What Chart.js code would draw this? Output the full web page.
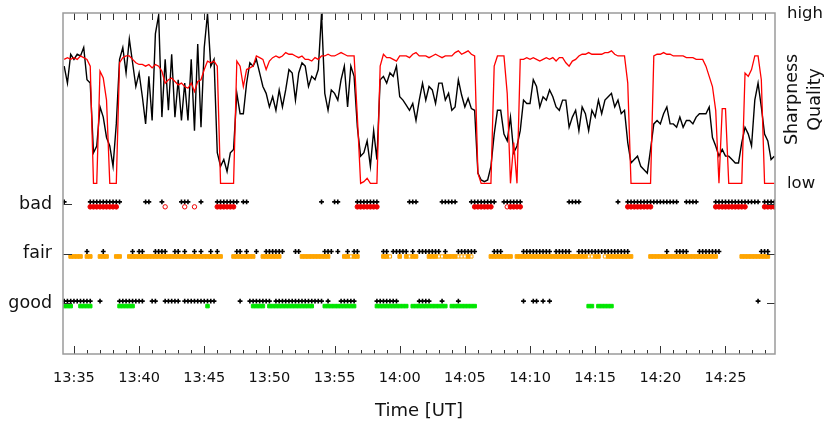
<!DOCTYPE html>
<html>
<head>
<meta charset="utf-8">
<script src="https://cdn.jsdelivr.net/npm/chart.js@4.4.1/dist/chart.umd.min.js"></script>
<style>
  html, body { margin: 0; padding: 0; background: #fff; }
  canvas { display: block; }
</style>
</head>
<body>
<canvas id="chart" width="828" height="423"></canvas>
<script>
// Zeitachse: Minuten nach 13:00 UT, ein Messwert alle 15 s ab 13:34:15
const firstSample = 34.25;
const sampleStep = 0.25;

// Beschriftungen der Zeitachse
const timeTicks = ['13:35', '13:40', '13:45', '13:50', '13:55', '14:00', '14:05', '14:10', '14:15', '14:20', '14:25'];
const qualityLevels = ['good', 'fair', 'bad'];   // y = 1, 2, 3
const sharpnessLabels = ['low', 'high'];         // 0 und 100

// Schaerfe (schwarze Linie), 0 = low, 100 = high
const sharpness = [
  69, 59, 76, 73, 76, 75, 80, 61, 59, 18,
  22, 45, 39, 27, 22, 10, 35, 73, 80, 65,
  85, 71, 57, 65, 51, 35, 63, 37, 88, 99,
  39, 73, 43, 76, 39, 61, 37, 59, 37, 73,
  31, 82, 33, 80, 100, 69, 73, 18, 10, 14,
  7, 18, 20, 53, 41, 41, 59, 71, 69, 73,
  65, 57, 53, 45, 51, 43, 55, 45, 55, 67,
  65, 49, 65, 71, 69, 57, 63, 61, 67,
  100, 53, 43, 55, 53, 49, 61, 69, 45, 69,
  63, 33, 16, 18, 25, 10, 31, 14, 61, 63,
  59, 65, 63, 69, 51, 49, 46, 43, 47, 37,
  49, 59, 49, 57, 55, 47, 59, 59, 49, 53,
  43, 45, 61, 52, 45, 50, 44, 43, 6, 2,
  1, 2, 10, 29, 43, 43, 29, 25, 39, 18,
  22, 31, 49, 47, 47, 61, 57, 45, 51, 49,
  55, 51, 45, 43, 49, 49, 33, 39, 43, 31,
  45, 41, 31, 43, 39, 49, 41, 49, 51, 53,
  45, 49, 41, 43, 24, 12, 14, 16, 10, 8,
  6, 20, 35, 37, 35, 41, 45, 35, 35, 33,
  39, 33, 37, 37, 35, 39, 41, 41, 41, 45,
  27, 22, 16, 20, 16, 16, 14, 12, 12, 24,
  33, 29, 22, 49, 59, 45, 29, 25, 14, 16
];

// Qualitaet (rote Linie), 0 = low, 100 = high
const quality = [
  73, 74, 73, 74, 73, 75, 74, 73, 69, 0,
  0, 66, 62, 49, 0, 0, 0, 71, 74, 75,
  75, 73, 71, 70, 70, 69, 70, 68, 70, 69,
  66, 59, 61, 62, 60, 58, 59, 57, 56, 59,
  54, 60, 61, 67, 72, 71, 72, 69, 0, 0,
  0, 0, 0, 72, 69, 57, 67, 68, 69, 75,
  74, 73, 67, 72, 74, 75, 74, 75, 77, 76,
  76, 75, 74, 75, 73, 73, 72, 74, 73,
  75, 75, 76, 75, 75, 76, 77, 76, 75, 75,
  75, 39, 0, 1, 3, 0, 0, 0, 69, 76,
  74, 74, 73, 72, 75, 75, 75, 74, 76, 77,
  75, 75, 75, 74, 75, 76, 75, 74, 75, 75,
  75, 77, 78, 76, 77, 78, 76, 75, 6, 0,
  0, 0, 0, 69, 75, 75, 75, 53, 0, 24,
  0, 73, 73, 74, 73, 74, 73, 72, 73, 74,
  73, 74, 72, 74, 74, 71, 69, 72, 73, 75,
  76, 76, 77, 76, 76, 76, 76, 77, 77, 78,
  76, 75, 75, 75, 59, 0, 0, 0, 0, 0,
  0, 0, 75, 76, 76, 77, 76, 76, 75, 75,
  75, 75, 74, 74, 74, 73, 73, 73, 69, 63,
  57, 43, 0, 44, 44, 0, 0, 0, 0, 0,
  65, 63, 67, 75, 75, 61, 0, 0, 0, 0
];

// Einstufung je Messwert als Bitmaske: 1 = good, 2 = fair, 4 = bad
// schwarze Marker (Schaerfe)
const sharpFlags = [
  5, 1, 1, 1, 1, 1, 1, 3, 5, 4,
  4, 5, 6, 4, 4, 4, 4, 5, 1, 1,
  1, 3, 1, 3, 3, 4, 4, 1, 3, 2,
  6, 3, 1, 1, 3, 3, 4, 7, 5, 1,
  3, 1, 7, 1, 1, 3, 1, 6, 4, 4,
  4, 4, 4, 6, 3, 4, 6, 1, 1, 3,
  1, 1, 3, 3, 2, 3, 3, 3, 1, 1,
  1, 3, 3, 1, 1, 1, 1, 1, 1,
  5, 2, 3, 2, 4, 6, 1, 1, 3, 1,
  3, 6, 4, 4, 4, 4, 4, 5, 1, 3,
  3, 1, 3, 3, 2, 2, 2, 4, 6, 4,
  3, 3, 3, 3, 2, 2, 2, 5, 6, 4,
  4, 4, 3, 2, 2, 2, 6, 6, 4, 4,
  4, 4, 4, 6, 2, 2, 4, 4, 4, 4,
  4, 4, 3, 2, 2, 3, 3, 2, 3, 2,
  3, 0, 2, 2, 2, 2, 6, 4, 4, 6,
  2, 2, 2, 2, 2, 2, 2, 2, 2, 2,
  2, 6, 2, 2, 6, 4, 4, 4, 4, 4,
  4, 4, 4, 4, 4, 4, 6, 4, 4, 6,
  2, 2, 6, 4, 4, 4, 2, 2, 2, 2,
  2, 6, 6, 4, 4, 4, 4, 4, 4, 4,
  4, 4, 4, 4, 5, 2, 6, 6, 4, 4
];

// farbige Marker (Qualitaet)
const qualFlags = [
  1, 1, 3, 2, 2, 3, 1, 3, 7, 4,
  4, 6, 6, 6, 4, 4, 6, 3, 1, 1,
  3, 3, 2, 2, 2, 2, 2, 2, 2, 2,
  2, 2, 2, 2, 2, 2, 2, 2, 2, 2,
  2, 2, 2, 2, 3, 2, 2, 6, 6, 4,
  4, 4, 6, 2, 2, 2, 2, 2, 3, 1,
  1, 3, 2, 3, 3, 3, 3, 1, 1, 1,
  1, 1, 1, 3, 3, 3, 3, 2, 2,
  2, 3, 3, 1, 1, 1, 1, 3, 3, 1,
  3, 6, 4, 4, 4, 4, 4, 5, 1, 3,
  3, 1, 1, 1, 3, 1, 3, 0, 3, 3,
  1, 1, 1, 3, 3, 3, 1, 1, 3, 2,
  3, 3, 1, 1, 1, 3, 1, 5, 4, 4,
  4, 4, 6, 2, 2, 2, 2, 2, 6, 4,
  6, 6, 2, 2, 2, 2, 2, 2, 2, 2,
  2, 2, 2, 2, 2, 2, 2, 2, 2, 2,
  2, 2, 1, 1, 2, 3, 1, 1, 3, 3,
  2, 2, 2, 2, 6, 6, 4, 4, 4, 4,
  4, 6, 2, 2, 2, 2, 2, 2, 2, 2,
  2, 2, 2, 2, 2, 2, 2, 2, 2, 2,
  2, 6, 4, 4, 4, 4, 4, 4, 4, 6,
  6, 2, 2, 2, 2, 2, 6, 6, 4, 4
];

// offene (unsichere) Marker, Minuten nach 13:00
const openBadTimes = [42.0, 43.5, 44.25, 68.25];
const openFairTimes = [56.25, 59.25, 60.75, 63.0, 63.25, 64.5, 64.75, 65.0, 65.5, 74.5, 74.75, 75.75];

const sampleTimes = sharpness.map((_, i) => firstSample + i * sampleStep);

function toMinutes(label) {
    const [h, m] = label.split(':').map(Number);
    return (h - 13) * 60 + m;
}
const tickMinutes = timeTicks.map(toMinutes);

function linePoints(values) {
    return values.map((v, i) => ({ x: sampleTimes[i], y: v }));
}

// Marker einer Stufe herausfiltern, leicht ueber/unter der Stufe
function flagPoints(flags, level, shift) {
    const bit = 1 << (level - 1);
    const pts = [];
    flags.forEach((f, i) => {
        if (f & bit) pts.push({ x: sampleTimes[i], y: level + shift });
    });
    return pts;
}

const UP = 0.045;
const DOWN = -0.055;
const FONT = '"DejaVu Sans", Verdana, sans-serif';

function markers(data, style, color, radius, fill) {
    return {
        data: data,
        yAxisID: 'y',
        showLine: false,
        pointStyle: style,
        pointRadius: radius,
        pointBorderWidth: style === 'cross' ? 1.6 : 1,
        pointBorderColor: color,
        pointBackgroundColor: fill,
        pointHoverRadius: radius
    };
}

const datasets = [
    {
        data: linePoints(quality), yAxisID: 'y2', showLine: true,
        borderColor: '#ff0000', borderWidth: 1.3, pointRadius: 0, tension: 0
    },
    {
        data: linePoints(sharpness), yAxisID: 'y2', showLine: true,
        borderColor: '#000000', borderWidth: 1.4, pointRadius: 0, tension: 0
    },
    markers(flagPoints(qualFlags, 3, DOWN), 'circle', '#ee0000', 2.3, '#ee0000'),
    markers(openBadTimes.map(t => ({ x: t, y: 3 + DOWN })), 'circle', '#ee0000', 2.2, '#ffffff'),
    markers(flagPoints(qualFlags, 2, DOWN), 'rect', '#ffa500', 2.6, '#ffa500'),
    markers(openFairTimes.map(t => ({ x: t, y: 2 + DOWN })), 'rect', '#ffa500', 2.3, '#ffffff'),
    markers(flagPoints(qualFlags, 1, DOWN), 'rect', '#00e600', 2.5, '#00e600'),
    markers(flagPoints(sharpFlags, 3, UP), 'cross', '#000000', 2.4, '#000000'),
    markers(flagPoints(sharpFlags, 2, UP), 'cross', '#000000', 2.4, '#000000'),
    markers(flagPoints(sharpFlags, 1, UP), 'cross', '#000000', 2.4, '#000000')
];

// Rahmen, nach innen zeigende Ticks und rechter Achsentitel
const framePlugin = {
    id: 'frame',
    afterDraw(chart) {
        const { ctx, chartArea: a, scales } = chart;
        ctx.save();
        ctx.strokeStyle = '#333';
        ctx.lineWidth = 1;
        ctx.beginPath();
        for (let m = Math.ceil(scales.x.min); m <= scales.x.max; m++) {
            const px = Math.round(scales.x.getPixelForValue(m)) + 0.5;
            const len = tickMinutes.includes(m) ? 8 : 4;
            ctx.moveTo(px, a.bottom);
            ctx.lineTo(px, a.bottom - len);
            ctx.moveTo(px, a.top);
            ctx.lineTo(px, a.top + 7);
        }
        qualityLevels.forEach((_, k) => {
            const py = Math.round(scales.y.getPixelForValue(k + 1)) + 0.5;
            ctx.moveTo(a.left, py);
            ctx.lineTo(a.left + 9, py);
            ctx.moveTo(a.right, py);
            ctx.lineTo(a.right - 8, py);
        });
        ctx.stroke();

        ctx.strokeStyle = '#9a9a9a';
        ctx.lineWidth = 1.5;
        ctx.strokeRect(a.left, a.top, a.right - a.left, a.bottom - a.top);

        const midY = (scales.y2.getPixelForValue(0) + scales.y2.getPixelForValue(100)) / 2;
        ctx.fillStyle = '#111';
        ctx.font = '17.5px ' + FONT;
        ctx.textAlign = 'center';
        ctx.textBaseline = 'alphabetic';
        [['Sharpness', 22], ['Quality', 45]].forEach(([text, dx]) => {
            ctx.save();
            ctx.translate(a.right + dx, midY + 1);
            ctx.rotate(-Math.PI / 2);
            ctx.fillText(text, 0, 0);
            ctx.restore();
        });
        ctx.restore();
    }
};

new Chart(document.getElementById('chart'), {
    type: 'scatter',
    data: { datasets: datasets },
    plugins: [framePlugin],
    options: {
        responsive: false,
        animation: false,
        devicePixelRatio: 1,
        layout: { padding: { top: 13, left: 0, right: 0, bottom: 0 } },
        plugins: { legend: { display: false }, tooltip: { enabled: false } },
        scales: {
            x: {
                type: 'linear',
                min: 34.16,
                max: 88.8,
                grid: { display: false, drawTicks: false },
                border: { display: false },
                ticks: {
                    font: { family: FONT, size: 14.5 },
                    color: '#111',
                    padding: 16,
                    maxRotation: 0,
                    autoSkip: false,
                    callback: (v) => timeTicks[tickMinutes.indexOf(v)]
                },
                afterBuildTicks: (s) => { s.ticks = tickMinutes.map(v => ({ value: v })); },
                afterFit: (s) => { s.height = 69; s.paddingLeft = 0; s.paddingRight = 0; },
                title: {
                    display: true,
                    text: 'Time [UT]',
                    color: '#111',
                    font: { family: FONT, size: 18 },
                    padding: { top: 4, bottom: 1 }
                }
            },
            y: {
                position: 'left',
                min: -0.02,
                max: 6.85,
                grid: { display: false, drawTicks: false },
                border: { display: false },
                ticks: {
                    font: { family: FONT, size: 17.5 },
                    color: '#111',
                    padding: 11,
                    callback: (v) => qualityLevels[v - 1]
                },
                afterBuildTicks: (s) => { s.ticks = qualityLevels.map((_, k) => ({ value: k + 1 })); },
                afterFit: (s) => { s.width = 63; s.paddingTop = 0; s.paddingBottom = 0; }
            },
            y2: {
                position: 'right',
                min: -100.5,
                max: 100.3,
                grid: { display: false, drawTicks: false },
                border: { display: false },
                ticks: {
                    font: { family: FONT, size: 16.5 },
                    color: '#111',
                    padding: 12,
                    callback: (v) => sharpnessLabels[v / 100]
                },
                afterBuildTicks: (s) => { s.ticks = [{ value: 0 }, { value: 100 }]; },
                afterFit: (s) => { s.width = 53; s.paddingTop = 0; s.paddingBottom = 0; }
            }
        }
    }
});
</script>
</body>
</html>
